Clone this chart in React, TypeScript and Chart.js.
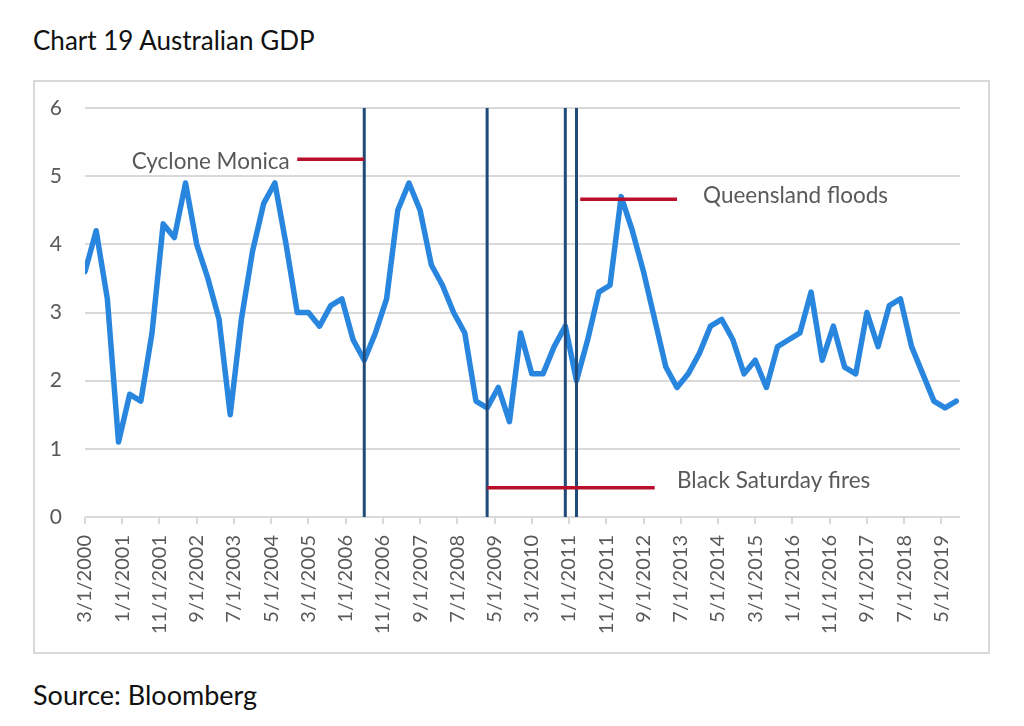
import { useEffect, useRef } from "react";
import { Chart, registerables } from "chart.js";

Chart.register(...registerables);

// quarterly GDP growth (% y/y), Mar 2000 .. Sep 2019
const gdp = [
  3.6, 4.2, 3.2, 1.1, 1.8, 1.7, 2.7, 4.3, 4.1, 4.9,
  4.0, 3.5, 2.9, 1.5, 2.9, 3.9, 4.6, 4.9, 4.0, 3.0,
  3.0, 2.8, 3.1, 3.2, 2.6, 2.3, 2.7, 3.2, 4.5, 4.9,
  4.5, 3.7, 3.4, 3.0, 2.7, 1.7, 1.6, 1.9, 1.4, 2.7,
  2.1, 2.1, 2.5, 2.8, 2.0, 2.6, 3.3, 3.4, 4.7, 4.2,
  3.6, 2.9, 2.2, 1.9, 2.1, 2.4, 2.8, 2.9, 2.6, 2.1,
  2.3, 1.9, 2.5, 2.6, 2.7, 3.3, 2.3, 2.8, 2.2, 2.1,
  3.0, 2.5, 3.1, 3.2, 2.5, 2.1, 1.7, 1.6, 1.7,
];

// x axis is in months since Mar 2000; one label every 10 months
const xTickLabels = [
  "3/1/2000", "1/1/2001", "11/1/2001", "9/1/2002", "7/1/2003", "5/1/2004",
  "3/1/2005", "1/1/2006", "11/1/2006", "9/1/2007", "7/1/2008", "5/1/2009",
  "3/1/2010", "1/1/2011", "11/1/2011", "9/1/2012", "7/1/2013", "5/1/2014",
  "3/1/2015", "1/1/2016", "11/1/2016", "9/1/2017", "7/1/2018", "5/1/2019",
];
const tickStep = 10;

// event markers (months since Mar 2000)
const eventLines = [75, 108, 129, 132];
const eventNames = ["Cyclone Monica", "Black Saturday fires", "Queensland floods"];
const markerStart = [57, 108, 133];
const markerEnd = [75, 153, 159];
const markerLevel = [5.25, 0.43, 4.66];
const labelX = [55, 159, 166];
const labelY = [5.21, 0.53, 4.72];
const labelAlign: CanvasTextAlign[] = ["right", "left", "left"];

const FONT = "Lato, 'Open Sans', sans-serif";
const GREY = "#595959";

const labelPlugin = {
  id: "eventLabels",
  afterDatasetsDraw(chart: any) {
    const { ctx, scales } = chart;
    ctx.save();
    ctx.font = `22.5px ${FONT}`;
    ctx.fillStyle = GREY;
    ctx.textBaseline = "middle";
    eventNames.forEach((name, i) => {
      ctx.textAlign = labelAlign[i];
      ctx.fillText(name, scales.x.getPixelForValue(labelX[i]), scales.y.getPixelForValue(labelY[i]));
    });
    ctx.restore();
  },
};

function GdpChart() {
  const canvasRef = useRef<HTMLCanvasElement>(null);
  const chartRef = useRef<Chart | null>(null);

  useEffect(() => {
    if (!canvasRef.current) return;
    chartRef.current?.destroy();

    const verticals = eventLines.map((m) => ({
      data: [{ x: m, y: 0 }, { x: m, y: 6 }],
      borderColor: "#1f4a7a",
      borderWidth: 3,
      pointRadius: 0,
      clip: false as any,
      order: 0,
    }));
    const markers = eventNames.map((_, i) => ({
      data: [{ x: markerStart[i], y: markerLevel[i] }, { x: markerEnd[i], y: markerLevel[i] }],
      borderColor: "#b8102a",
      borderWidth: 3.5,
      pointRadius: 0,
      order: 0,
    }));

    chartRef.current = new Chart(canvasRef.current, {
      type: "line",
      data: {
        datasets: [
          ...markers,
          ...verticals,
          {
            label: "Australian GDP",
            data: gdp.map((v, i) => ({ x: i * 3, y: v })),
            borderColor: "#2986de",
            borderWidth: 5.5,
            borderJoinStyle: "round",
            borderCapStyle: "round",
            pointRadius: 0,
            tension: 0,
            order: 5,
          },
        ] as any,
      },
      options: {
        animation: false,
        responsive: true,
        maintainAspectRatio: false,
        layout: { padding: { top: 26, right: 28, left: 0, bottom: 0 } },
        scales: {
          x: {
            type: "linear",
            min: 0,
            max: 235,
            afterBuildTicks: (scale: any) => {
              scale.ticks = xTickLabels.map((_, i) => ({ value: i * tickStep }));
            },
            afterFit: (scale: any) => { scale.height = 135; },
            grid: { display: true, drawOnChartArea: false, drawTicks: true, tickLength: 7, color: "#d9d9d9", lineWidth: 2 },
            border: { display: false },
            ticks: {
              autoSkip: false,
              maxRotation: 90,
              minRotation: 90,
              padding: 11,
              color: GREY,
              font: { family: FONT, size: 20 },
              callback: (v: any) => xTickLabels[Math.round(Number(v) / tickStep)] ?? "",
            },
          },
          y: {
            min: 0,
            max: 6,
            afterFit: (scale: any) => {
              scale.width = 50;
              scale.paddingTop = 0;
              scale.paddingBottom = 0;
            },
            grid: { color: "#d9d9d9", lineWidth: 2, drawTicks: false },
            border: { display: false },
            ticks: { stepSize: 1, padding: 23, color: GREY, font: { family: FONT, size: 21 } },
          },
        },
        plugins: { legend: { display: false }, tooltip: { enabled: false } },
      },
      plugins: [labelPlugin],
    });

    return () => { chartRef.current?.destroy(); };
  }, []);

  return <div style={{ width: 953, height: 570 }}><canvas ref={canvasRef} /></div>;
}

export default function App() {
  return (
    <div style={{ position: "absolute", left: 0, top: 0, width: 1024, height: 726, background: "#fff", fontFamily: FONT }}>
      <div style={{ position: "absolute", left: 33, top: 24, fontSize: 26, lineHeight: "32px", color: "#111" }}>
        Chart 19 Australian GDP
      </div>
      <div style={{ position: "absolute", left: 33, top: 80, width: 957, height: 574, boxSizing: "border-box", border: "2px solid #d9d9d9" }}>
        <GdpChart />
      </div>
      <div style={{ position: "absolute", left: 33, top: 679, fontSize: 27, lineHeight: "32px", color: "#111" }}>
        Source: Bloomberg
      </div>
    </div>
  );
}
